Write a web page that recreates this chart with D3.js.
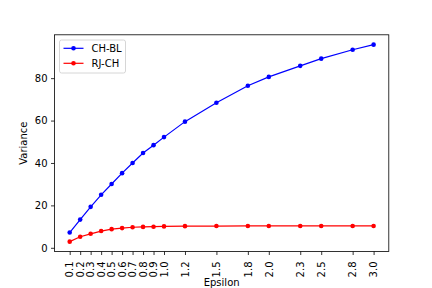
<!DOCTYPE html>
<html><head><meta charset="utf-8">
<script src="https://cdn.jsdelivr.net/npm/d3@7"></script>
<style>body{margin:0;background:#fff}svg{display:block}text{font-family:"DejaVu Sans",sans-serif;fill:#000}</style>
</head><body>
<svg id="c" width="432" height="288"></svg>
<script>
const epsilon = [0.1,0.2,0.3,0.4,0.5,0.6,0.7,0.8,0.9,1.0,1.2,1.5,1.8,2.0,2.3,2.5,2.8,3.0];
const chBL = [7.2,13.3,19.3,25.0,30.1,35.2,40.0,44.7,48.4,52.2,59.5,68.4,76.4,80.6,85.8,89.2,93.4,95.8];
const rjCH = [2.9,5.2,6.6,7.9,8.8,9.3,9.7,9.85,9.95,10.1,10.2,10.25,10.3,10.3,10.3,10.3,10.3,10.3];
const yTicks = [0,20,40,60,80];
const seriesNames = ["CH-BL","RJ-CH"];
const colors = ["#0000ff","#ff0000"];

const svg = d3.select("#c");
const L=54.5, R=388.8, T=34.8, B=251.5;
const xMin=d3.min(epsilon), xMax=d3.max(epsilon), xp=(xMax-xMin)*0.05;
const x = d3.scaleLinear().domain([xMin-xp, xMax+xp]).range([L,R]);
const all = chBL.concat(rjCH);
const yMin=d3.min(all), yMax=d3.max(all), yp=(yMax-yMin)*0.05;
const y = d3.scaleLinear().domain([yMin-yp, yMax+yp]).range([B,T]);

const series = [chBL, rjCH];
const line = d3.line().x((d,i)=>x(epsilon[i])).y(d=>y(d));
series.forEach((s,k)=>{
  svg.append("path").attr("d", line(s)).attr("fill","none").attr("stroke",colors[k]).attr("stroke-width",1.2);
  svg.append("g").selectAll("circle").data(s).join("circle")
    .attr("cx",(d,i)=>x(epsilon[i])).attr("cy",d=>y(d)).attr("r",2.3).attr("fill",colors[k]);
});

// axes
const xAxis = svg.append("g").attr("transform",`translate(0,${B})`)
  .call(d3.axisBottom(x).tickValues(epsilon).tickFormat(d3.format(".1f")).tickSize(3.5).tickPadding(3.5));
xAxis.select(".domain").remove();
xAxis.selectAll("text").attr("font-size",10).attr("transform","rotate(-90)")
  .attr("text-anchor","end").attr("dy","0.32em").attr("y",0).attr("x",-10);
const yAxis = svg.append("g").attr("transform",`translate(${L},0)`)
  .call(d3.axisLeft(y).tickValues(yTicks).tickSize(3.5).tickPadding(3.5));
yAxis.select(".domain").remove();
yAxis.selectAll("text").attr("font-size",10);
svg.selectAll(".tick line").attr("stroke","#000").attr("stroke-width",0.8);

svg.append("rect").attr("x",L).attr("y",T).attr("width",R-L).attr("height",B-T)
  .attr("fill","none").attr("stroke","#000").attr("stroke-width",0.8);

svg.append("text").attr("x",(L+R)/2).attr("y",285.5).attr("text-anchor","middle").attr("font-size",10).text("Epsilon");
svg.append("text").attr("transform",`translate(27,${(T+B)/2}) rotate(-90)`).attr("text-anchor","middle").attr("font-size",10).text("Variance");

// legend
const lg = svg.append("g");
lg.append("rect").attr("x",59.5).attr("y",40).attr("width",66).attr("height",33).attr("rx",2)
  .attr("fill","#fff").attr("fill-opacity",0.8).attr("stroke","#ccc").attr("stroke-width",0.8);
seriesNames.forEach((n,k)=>{
  const yy = 48.3 + k*15;
  lg.append("line").attr("x1",63.5).attr("x2",83.5).attr("y1",yy).attr("y2",yy).attr("stroke",colors[k]).attr("stroke-width",1.2);
  lg.append("circle").attr("cx",73.5).attr("cy",yy).attr("r",2.3).attr("fill",colors[k]);
  lg.append("text").attr("x",91.5).attr("y",yy).attr("dy","0.35em").attr("font-size",10).text(n);
});
</script>
</body></html>
